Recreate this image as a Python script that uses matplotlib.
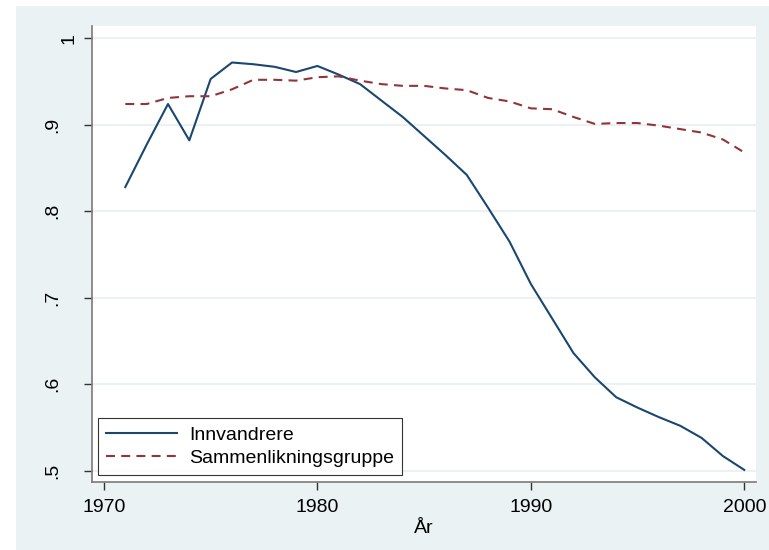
import matplotlib
matplotlib.use("Agg")
import matplotlib.pyplot as plt
from matplotlib.patches import Rectangle
from matplotlib import transforms

plt.rcParams['font.family'] = ['Liberation Sans', 'DejaVu Sans']

years = list(range(1971, 2001))
innvandrere = [0.828, 0.877, 0.924, 0.882, 0.953, 0.972, 0.970, 0.967, 0.961, 0.968,
               0.958, 0.947, 0.928, 0.909, 0.887, 0.865, 0.842, 0.804, 0.765, 0.716,
               0.676, 0.636, 0.608, 0.585, 0.573, 0.562, 0.552, 0.538, 0.517, 0.501]
sammenlikning = [0.924, 0.924, 0.931, 0.933, 0.933, 0.941, 0.952, 0.952, 0.951, 0.955,
                 0.956, 0.951, 0.947, 0.945, 0.945, 0.942, 0.940, 0.931, 0.927, 0.919,
                 0.918, 0.909, 0.901, 0.902, 0.902, 0.899, 0.895, 0.891, 0.883, 0.868]
xticks = [1970, 1980, 1990, 2000]
yticks = [0.5, 0.6, 0.7, 0.8, 0.9, 1.0]
ytick_labels = ['.5', '.6', '.7', '.8', '.9', '1']
labels = ['Innvandrere', 'Sammenlikningsgruppe']

W, H = 769, 550
fig = plt.figure(figsize=(W / 100, H / 100), dpi=100, facecolor='white')
bg = '#eaf2f3'
fig.patches.append(Rectangle((16 / W, 0), 1 - 16 / W, 1 - 6 / H, transform=fig.transFigure,
                             facecolor=bg, edgecolor='none', zorder=-10))

ax = fig.add_axes([92 / W, 1 - 482 / H, (756 - 92) / W, (482 - 26) / H])
ax.set_zorder(1)
ax.set_facecolor('white')

ax.plot(years, innvandrere, color='#1a476f', lw=1.5, label=labels[0], zorder=3)
ax.plot(years, sammenlikning, color='#90353b', lw=1.5, linestyle=(0, (4.3, 3.0)),
        label=labels[1], zorder=3)

ax.set_xlim(1969.44, 2000.55)
ax.set_ylim(0.487, 1.0142)
ax.set_xticks(xticks)
ax.set_yticks(yticks)
ax.tick_params(axis='y', labelleft=False)

# vertical y tick labels, placed like the Stata output
trans = transforms.blended_transform_factory(fig.transFigure, ax.transData)
for y, lab in zip(yticks, ytick_labels):
    xc = 69 if lab == '1' else 53
    ax.text(xc / W, y, lab, transform=trans, rotation=90, ha='center', va='center',
            fontsize=14, clip_on=False)

for y in yticks:
    ax.axhline(y, color=bg, lw=1.5, zorder=1)

for s in ['top', 'right']:
    ax.spines[s].set_visible(False)
for s in ['left', 'bottom']:
    ax.spines[s].set_color('#7a7a7a')
    ax.spines[s].set_linewidth(1.2)

ax.tick_params(axis='both', colors='#333333', length=6, width=1.0, labelsize=14,
               labelcolor='black')
ax.tick_params(axis='x', pad=6)

ax.set_xlabel('År', fontsize=14, labelpad=3)

leg = ax.legend(loc='lower left', bbox_to_anchor=(0.009, 0.0155), borderaxespad=0,
                fontsize=14, frameon=True, fancybox=False, handlelength=3.66,
                handletextpad=0.62, borderpad=0.4, labelspacing=0.3)
leg.get_frame().set_edgecolor('black')
leg.get_frame().set_linewidth(0.8)

fig.savefig('out.png', dpi=100, facecolor=fig.get_facecolor())
